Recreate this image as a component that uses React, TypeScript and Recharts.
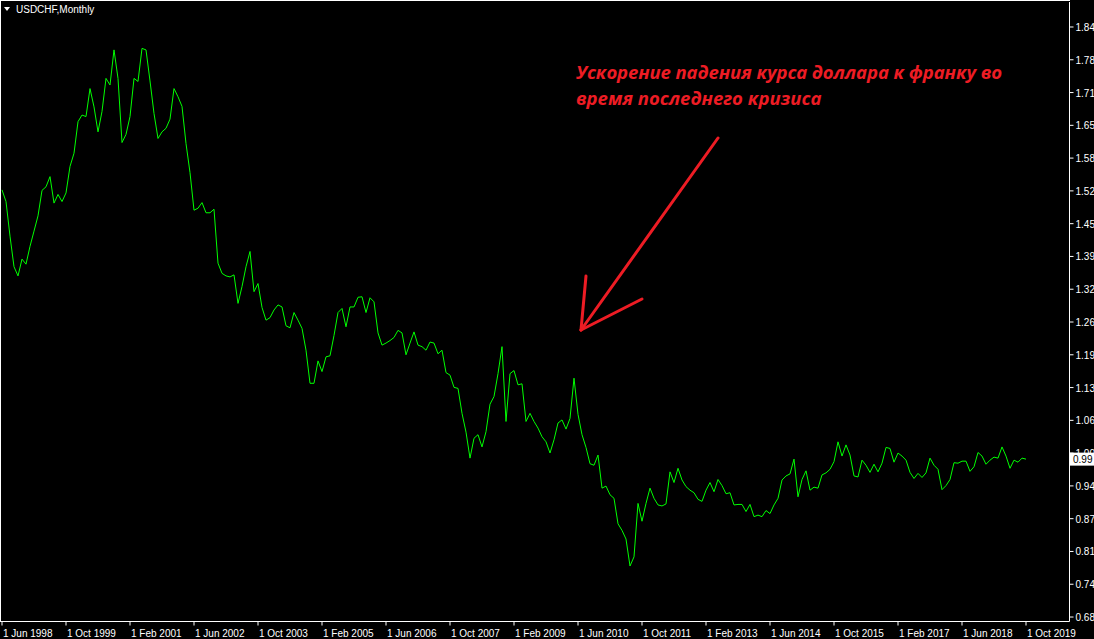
import { Line, LineChart, XAxis, YAxis } from "recharts";

// monthly closes, Jun 1998 .. Oct 2019
const closes = [
  1.521, 1.498, 1.43, 1.37, 1.352, 1.385, 1.375, 1.41, 1.44, 1.47,
  1.52, 1.527, 1.547, 1.495, 1.512, 1.498, 1.515, 1.567, 1.593, 1.655,
  1.668, 1.665, 1.72, 1.684, 1.635, 1.675, 1.74, 1.727, 1.796, 1.74,
  1.614, 1.63, 1.665, 1.74, 1.734, 1.799, 1.796, 1.735, 1.671, 1.622,
  1.635, 1.642, 1.66, 1.72, 1.704, 1.685, 1.612, 1.555, 1.481, 1.485,
  1.496, 1.476, 1.476, 1.483, 1.377, 1.357, 1.352, 1.35, 1.354, 1.298,
  1.331, 1.37, 1.4, 1.321, 1.337, 1.29, 1.265, 1.27, 1.285, 1.295,
  1.291, 1.254, 1.25, 1.28, 1.265, 1.249, 1.206, 1.141, 1.141, 1.185,
  1.164, 1.193, 1.195, 1.235, 1.28, 1.288, 1.252, 1.291, 1.291, 1.31,
  1.311, 1.28, 1.309, 1.301, 1.24, 1.216, 1.22, 1.225, 1.231, 1.245,
  1.24, 1.197, 1.22, 1.242, 1.216, 1.213, 1.206, 1.222, 1.22, 1.199,
  1.206, 1.162, 1.157, 1.133, 1.131, 1.082, 1.045, 0.994, 1.033, 1.04,
  1.016, 1.046, 1.1, 1.115, 1.16, 1.213, 1.066, 1.16, 1.166, 1.138,
  1.14, 1.066, 1.082, 1.066, 1.053, 1.036, 1.026, 1.004, 1.03, 1.063,
  1.069, 1.051, 1.072, 1.151, 1.08, 1.04, 1.015, 0.983, 0.98, 1.0,
  0.935, 0.939, 0.922, 0.915, 0.865, 0.852, 0.835, 0.782, 0.8, 0.905,
  0.87, 0.905, 0.935, 0.915, 0.902, 0.9, 0.904, 0.967, 0.946, 0.974,
  0.951, 0.938, 0.931, 0.926, 0.913, 0.909, 0.931, 0.946, 0.928, 0.952,
  0.94, 0.924, 0.926, 0.902, 0.903, 0.903, 0.889, 0.903, 0.879, 0.882,
  0.879, 0.891, 0.885, 0.902, 0.915, 0.951, 0.959, 0.963, 0.992, 0.918,
  0.952, 0.969, 0.931, 0.937, 0.935, 0.961, 0.965, 0.972, 0.987, 1.026,
  0.998, 1.02, 1.0, 0.959, 0.957, 0.99, 0.98, 0.966, 0.982, 0.967,
  0.984, 1.015, 1.013, 0.986, 1.004, 0.998, 0.99, 0.966, 0.954, 0.964,
  0.956, 0.965, 0.994, 0.98, 0.972, 0.932, 0.94, 0.952, 0.985, 0.984,
  0.988, 0.988, 0.968, 0.977, 1.005, 0.998, 0.982, 0.99, 0.996, 0.994,
  1.016, 0.998, 0.974, 0.99, 0.986, 0.994, 0.992,
];

const xTickIdx = [0, 16, 32, 48, 64, 80, 96, 112, 128, 144, 160, 176, 192, 208, 224, 240, 256];
const xTickLabels = [
  "1 Jun 1998", "1 Oct 1999", "1 Feb 2001", "1 Jun 2002", "1 Oct 2003", "1 Feb 2005",
  "1 Jun 2006", "1 Oct 2007", "1 Feb 2009", "1 Jun 2010", "1 Oct 2011", "1 Feb 2013",
  "1 Jun 2014", "1 Oct 2015", "1 Feb 2017", "1 Jun 2018", "1 Oct 2019",
];

const yTickValues = [
  1.841, 1.7766, 1.7122, 1.6478, 1.5834, 1.519, 1.4546, 1.3902, 1.3258, 1.2614,
  1.197, 1.1326, 1.0682, 1.0038, 0.9394, 0.875, 0.8106, 0.7462, 0.6818,
];
const yTickLabels = [
  "1.84", "1.78", "1.71", "1.65", "1.58", "1.52", "1.45", "1.39", "1.32", "1.26",
  "1.19", "1.13", "1.06", "1.00", "0.94", "0.87", "0.81", "0.74", "0.68",
];

const title = "USDCHF,Monthly";
const noteLines = ["Ускорение падения курса доллара к франку во", "время последнего кризиса"];

const data = closes.map((close, idx) => ({ idx, close }));
const lastClose = closes[closes.length - 1];
const tickFont = "'Liberation Sans', Arial, sans-serif";

function XTick(props: any) {
  const { x, y, payload } = props;
  const i = xTickIdx.indexOf(payload.value);
  return (
    <text x={x + 1} y={y + 11} fill="#fff" fontSize={10} fontFamily={tickFont} textAnchor="start">
      {xTickLabels[i]}
    </text>
  );
}

function YTick(props: any) {
  const { x, y, index } = props;
  if (index === yTickValues.length) {
    // current price marker
    return (
      <g>
        <rect x={x - 3.5} y={y - 6.5} width={26} height={13} fill="#fff" />
        <text x={x - 0.5} y={y + 4} fill="#000" fontSize={10} fontFamily={tickFont}>
          {lastClose.toFixed(2)}
        </text>
      </g>
    );
  }
  return (
    <text x={x + 2} y={y + 4} fill="#fff" fontSize={10} fontFamily={tickFont}>
      {yTickLabels[index]}
    </text>
  );
}

export default function App() {
  return (
    <div
      style={{
        position: "absolute",
        left: 0,
        top: 0,
        width: 1094,
        height: 639,
        background: "#000",
        overflow: "hidden",
      }}
    >
      <LineChart width={1094} height={639} data={data} margin={{ top: 2, right: 0, bottom: 0, left: 1 }}>
        <XAxis
          type="number"
          dataKey="idx"
          domain={[-0.25, 266.875]}
          allowDataOverflow
          ticks={xTickIdx}
          interval={0}
          height={17.5}
          axisLine={{ stroke: "#fff" }}
          tickLine={{ stroke: "#fff" }}
          tickSize={4}
          tickMargin={0}
          tick={(p: any) => <XTick {...p} />}
        />
        <YAxis
          orientation="right"
          type="number"
          domain={[0.673, 1.8901]}
          allowDataOverflow
          ticks={[...yTickValues, lastClose]}
          interval={0}
          width={24.5}
          axisLine={{ stroke: "#fff" }}
          tickLine={{ stroke: "#fff" }}
          tickSize={4}
          tickMargin={0}
          tick={(p: any) => <YTick {...p} />}
        />
        <Line
          type="linear"
          dataKey="close"
          stroke="#00ff00"
          strokeWidth={1}
          dot={false}
          isAnimationActive={false}
        />
      </LineChart>

      <div
        style={{
          position: "absolute",
          left: 0,
          top: 0,
          width: 1070,
          height: 622,
          borderTop: "1px solid #fff",
          borderLeft: "1px solid #fff",
          boxSizing: "border-box",
          pointerEvents: "none",
        }}
      />

      <svg
        width={1094}
        height={639}
        style={{ position: "absolute", left: 0, top: 0, pointerEvents: "none" }}
      >
        <polygon points="4,7 10,7 7,11" fill="#fff" />
        <text x={16} y={13} fill="#fff" fontSize={10} fontFamily={tickFont}>
          {title}
        </text>

        <g
          fill="#ed1c24"
          fontFamily="'Open Sans', 'Liberation Sans', sans-serif"
          fontSize={18.5}
          fontWeight="bold"
          fontStyle="italic"
        >
          <text x={576} y={79} textLength={426} lengthAdjust="spacing">{noteLines[0]}</text>
          <text x={576} y={105}>{noteLines[1]}</text>
        </g>

        <g stroke="#ed1c24" strokeWidth={3} strokeLinecap="round">
          <line x1={718} y1={138} x2={581} y2={330} />
          <line x1={581} y1={330} x2={586} y2={276} />
          <line x1={581} y1={330} x2={642} y2={299} />
        </g>
      </svg>
    </div>
  );
}
